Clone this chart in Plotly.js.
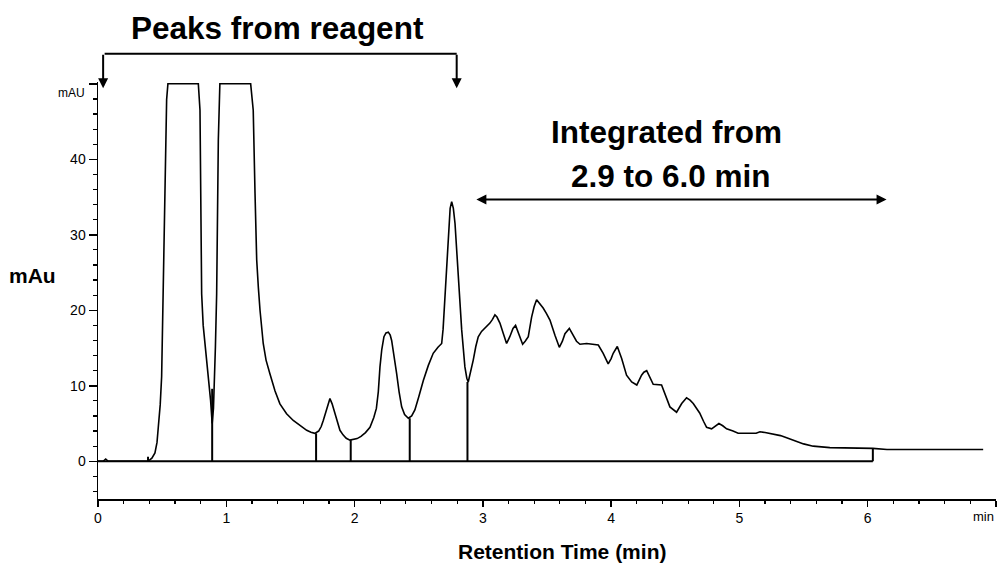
<!DOCTYPE html>
<html>
<head>
<meta charset="utf-8">
<script src="https://cdn.plot.ly/plotly-3.0.1.min.js"></script>
<style>html,body{margin:0;padding:0;background:#fff;}#chart{width:997px;height:563px;}</style>
</head>
<body>
<div id="chart"></div>
<script>
// Chromatogram signal (retention time in min, absorbance in mAU)
var sigX = [0, 0.04, 0.06, 0.08, 0.39, 0.42, 0.444, 0.46, 0.47, 0.485, 0.496, 0.509, 0.522, 0.535, 0.545, 0.782, 0.795, 0.80, 0.808, 0.82, 0.834, 0.86, 0.878, 0.89, 0.90, 0.915, 0.925, 0.938, 0.95, 1.19, 1.21, 1.224, 1.237, 1.25, 1.263, 1.288, 1.31, 1.34, 1.38, 1.418, 1.47, 1.522, 1.575, 1.627, 1.66, 1.69, 1.72, 1.74, 1.756, 1.78, 1.808, 1.825, 1.847, 1.865, 1.886, 1.91, 1.935, 1.964, 1.99, 2.02, 2.05, 2.085, 2.12, 2.15, 2.17, 2.185, 2.198, 2.212, 2.229, 2.245, 2.263, 2.278, 2.289, 2.308, 2.328, 2.347, 2.367, 2.39, 2.419, 2.445, 2.47, 2.5, 2.536, 2.575, 2.613, 2.65, 2.679, 2.69, 2.705, 2.718, 2.73, 2.745, 2.757, 2.77, 2.783, 2.795, 2.808, 2.82, 2.835, 2.86, 2.875, 2.886, 2.9, 2.925, 2.945, 2.964, 2.99, 3.016, 3.055, 3.075, 3.094, 3.11, 3.133, 3.16, 3.185, 3.21, 3.235, 3.255, 3.28, 3.31, 3.33, 3.354, 3.38, 3.40, 3.419, 3.445, 3.47, 3.495, 3.523, 3.562, 3.596, 3.62, 3.64, 3.674, 3.705, 3.73, 3.757, 3.809, 3.9, 3.938, 3.977, 4.0, 4.016, 4.048, 4.082, 4.12, 4.16, 4.2, 4.237, 4.255, 4.277, 4.3, 4.328, 4.393, 4.425, 4.458, 4.51, 4.55, 4.588, 4.615, 4.64, 4.69, 4.72, 4.744, 4.783, 4.81, 4.84, 4.87, 4.9, 4.95, 4.99, 5.13, 5.16, 5.2, 5.277, 5.32, 5.368, 5.446, 5.5, 5.575, 5.705, 6.04, 6.15, 6.9];
var sigY = [0, 0, 0.3, 0, 0, 0.4, 1.1, 2.5, 4.5, 7.5, 11.2, 22.2, 35.5, 47.9, 50, 50, 46.5, 35.5, 22.2, 18, 15.6, 11.2, 8, 5, 7, 15, 22.2, 42.6, 50, 50, 46.5, 35.5, 26.7, 23, 20, 15.6, 13.4, 11.6, 9.3, 7.6, 6.3, 5.4, 4.7, 4.1, 3.85, 3.7, 4.0, 4.6, 5.4, 6.8, 8.3, 7.6, 6.3, 5.0, 4.1, 3.5, 3.05, 2.8, 2.85, 3.0, 3.3, 3.8, 4.5, 5.8, 7.0, 9.2, 12.5, 14.8, 16.5, 17.0, 17.1, 16.7, 16.0, 14.0, 11.6, 9.2, 7.2, 6.2, 5.7, 6.0, 6.8, 8.5, 10.7, 12.7, 14.3, 15.1, 15.6, 17.5, 21.8, 26.5, 30.6, 33.5, 34.4, 33.5, 31.5, 28, 24, 20.5, 17.4, 12.5, 11, 10.5, 11.5, 13.4, 15.2, 16.5, 17.2, 17.6, 18.3, 18.8, 19.4, 19.1, 18.3, 16.9, 15.6, 16.5, 17.6, 18, 16.8, 15.5, 15.9, 16.5, 19.1, 20.5, 21.4, 20.9, 20.3, 19.6, 18.7, 16.7, 15.1, 15.9, 16.9, 17.6, 16.7, 15.9, 15.5, 15.6, 15.4, 14.3, 12.9, 13.6, 14.3, 15.2, 13.6, 11.4, 10.5, 10.1, 11.4, 11.8, 12, 11.2, 10.2, 10.1, 8.7, 7.2, 6.5, 7.65, 8.4, 8.1, 7.65, 6.4, 5.3, 4.5, 4.3, 4.6, 5.0, 4.7, 4.3, 4.0, 3.7, 3.7, 3.9, 3.8, 3.6, 3.4, 3.1, 2.6, 2.3, 2.0, 1.8, 1.7, 1.55, 1.55];

// Integration baseline and drop lines
var baseX = [0, 6.04];
var baseY = [0, 0];
var dropX = [0.39, 0.89, 1.70, 1.97, 2.43, 2.88, 6.04];
var dropTop = [0.6, 9.6, 3.7, 2.8, 5.7, 10.5, 1.7];

// Axis ticks
var xTickVals = [0, 1, 2, 3, 4, 5, 6, 7];
var xTickText = ['0', '1', '2', '3', '4', '5', '6', ''];
var yTickVals = [0, 10, 20, 30, 40, 50];
var yTickText = ['0', '10', '20', '30', '40', ''];

var dX = [], dY = [];
for (var i = 0; i < dropX.length; i++) {
  dX.push(dropX[i], dropX[i], null);
  dY.push(0, dropTop[i], null);
}

var FONT = 'Liberation Sans, Arial, Helvetica, sans-serif';

var traces = [
  {x: sigX, y: sigY, type: 'scatter', mode: 'lines', line: {color: '#000', width: 1.6}, hoverinfo: 'skip'},
  {x: baseX, y: baseY, type: 'scatter', mode: 'lines', line: {color: '#000', width: 1.8}, hoverinfo: 'skip'},
  {x: dX, y: dY, type: 'scatter', mode: 'lines', line: {color: '#000', width: 2}, hoverinfo: 'skip', connectgaps: false}
];

function txt(o) {
  return Object.assign({showarrow: false, xanchor: 'center', yanchor: 'middle'}, o);
}
var arrowBase = {showarrow: true, text: '', arrowcolor: '#000', arrowwidth: 2, arrowsize: 1, arrowhead: 2, standoff: 0, startstandoff: 0};
var BIG = {family: FONT, size: 31.5, color: '#000', weight: 'bold'};

var annotations = [
  txt({text: 'Peaks from reagent', xref: 'x', yref: 'paper', x: 1.40, y: 1.130, font: BIG}),
  txt({text: 'Integrated from', xref: 'x', yref: 'y', x: 4.43, y: 43.6, font: BIG}),
  txt({text: '2.9 to 6.0 min', xref: 'x', yref: 'y', x: 4.465, y: 37.8, font: BIG}),
  txt({text: 'mAu', xref: 'paper', yref: 'paper', x: -0.0729, y: 0.536, font: {family: FONT, size: 21, color: '#000', weight: 'bold'}}),
  txt({text: 'Retention Time (min)', xref: 'x', yref: 'paper', x: 3.613, y: -0.1256, font: {family: FONT, size: 21, color: '#000', weight: 'bold'}}),
  txt({text: 'mAU', xref: 'paper', yref: 'y', x: -0.0295, y: 48.74, font: {family: FONT, size: 12, color: '#000'}}),
  txt({text: 'min', xref: 'x', yref: 'paper', x: 6.9, y: -0.041, font: {family: FONT, size: 13, color: '#000'}}),
  // bracket over reagent peaks
  Object.assign({}, arrowBase, {xref: 'x', yref: 'paper', axref: 'x', ayref: 'pixel', x: 2.796, y: 1.068, ax: 0.04, ay: 0, arrowhead: 0}),
  Object.assign({}, arrowBase, {xref: 'x', yref: 'paper', axref: 'pixel', ayref: 'pixel', x: 0.04, y: 0.985, ax: 0, ay: -35}),
  Object.assign({}, arrowBase, {xref: 'x', yref: 'paper', axref: 'pixel', ayref: 'pixel', x: 2.796, y: 0.985, ax: 0, ay: -35}),
  // double arrow for integration window
  Object.assign({}, arrowBase, {xref: 'x', yref: 'y', axref: 'x', ayref: 'y', x: 6.147, y: 34.66, ax: 2.938, ay: 34.66, arrowside: 'end+start'})
];

var layout = {
  width: 997, height: 563,
  margin: {l: 98, r: 1, t: 82, b: 64},
  paper_bgcolor: '#fff', plot_bgcolor: '#fff',
  showlegend: false,
  font: {family: FONT, color: '#000'},
  xaxis: {
    range: [0, 7], showgrid: false, zeroline: false,
    showline: true, linecolor: '#000', linewidth: 1.5,
    ticks: 'outside', ticklen: 6, tickwidth: 1.5, tickcolor: '#000',
    tickvals: xTickVals, ticktext: xTickText,
    tickfont: {family: FONT, size: 14, color: '#000'},
    minor: {dtick: 0.2, ticks: 'outside', ticklen: 3, tickwidth: 1.2, tickcolor: '#000', showgrid: false}
  },
  yaxis: {
    range: [-5, 50.24], showgrid: false, zeroline: false,
    showline: true, linecolor: '#000', linewidth: 1.5,
    ticks: 'outside', ticklen: 8, tickwidth: 1.5, tickcolor: '#000',
    tickvals: yTickVals, ticktext: yTickText,
    tickfont: {family: FONT, size: 14, color: '#000'},
    minor: {dtick: 2, ticks: 'outside', ticklen: 4, tickwidth: 1.2, tickcolor: '#000', showgrid: false}
  },
  annotations: annotations
};

Plotly.newPlot('chart', traces, layout, {staticPlot: true, displayModeBar: false});
</script>
</body>
</html>
